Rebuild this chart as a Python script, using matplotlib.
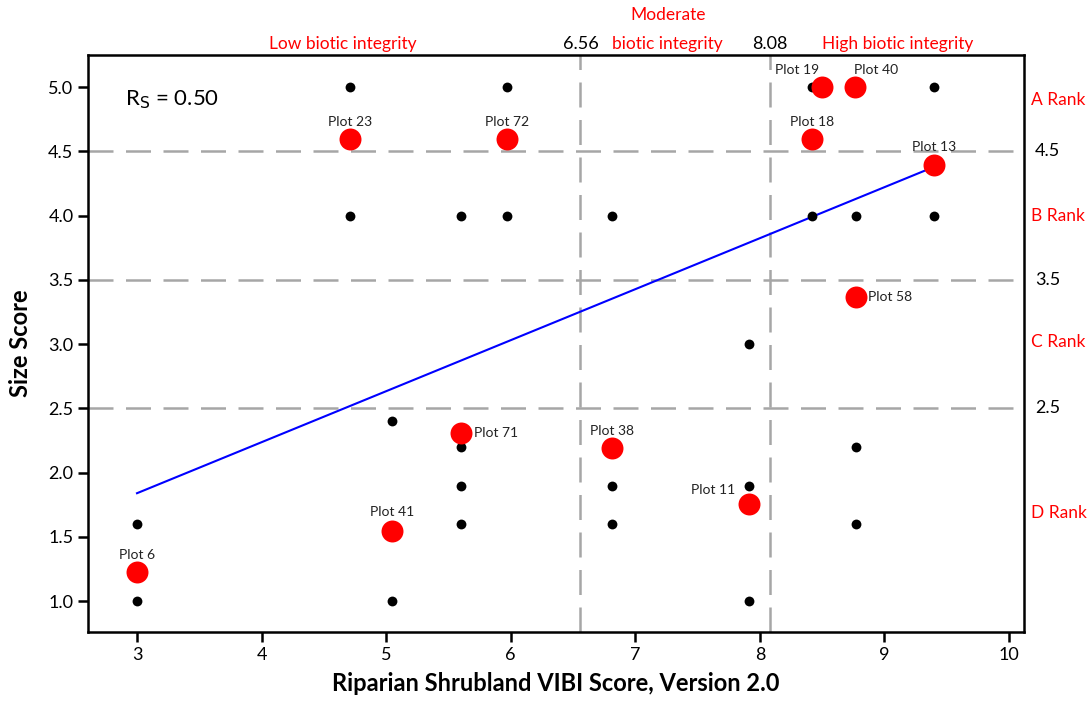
import matplotlib.pyplot as plt

plt.rcParams['font.family'] = ['Lato', 'DejaVu Sans']

# all plots (black dots)
all_x = [3.0, 3.0, 4.71, 4.71, 5.05, 5.05, 5.60, 5.60, 5.60, 5.60, 5.97, 5.97,
         6.81, 6.81, 6.81, 7.91, 7.91, 7.91, 8.42, 8.42, 8.77, 8.77, 8.77, 9.40, 9.40]
all_y = [1.6, 1.0, 5.0, 4.0, 2.4, 1.0, 4.0, 2.2, 1.9, 1.6, 5.0, 4.0,
         4.0, 1.9, 1.6, 3.0, 1.9, 1.0, 5.0, 4.0, 4.0, 2.2, 1.6, 5.0, 4.0]

# highlighted plots (red dots)
plot_names = ["Plot 6", "Plot 41", "Plot 71", "Plot 38", "Plot 11", "Plot 23",
              "Plot 72", "Plot 19", "Plot 40", "Plot 18", "Plot 13", "Plot 58"]
plot_x = [3.0, 5.05, 5.60, 6.81, 7.91, 4.71, 5.97, 8.50, 8.76, 8.42, 9.40, 8.77]
plot_y = [1.23, 1.545, 2.31, 2.19, 1.755, 4.595, 4.595, 5.0, 5.0, 4.595, 4.39, 3.365]

# label offsets (pixels) and alignment for each red plot
label_pos = [((0, 17), 'center'), ((0, 19), 'center'), ((13, 0), 'left'),
             ((0, 17), 'center'), ((-13, 14), 'right'), ((0, 17), 'center'),
             ((0, 17), 'center'), ((-25, 17), 'center'), ((22, 17), 'center'),
             ((0, 17), 'center'), ((0, 18), 'center'), ((12, 0), 'left')]

fit_x = [3.0, 9.40]
fit_y = [1.84, 4.38]

thresholds_x = [6.56, 8.08]
thresholds_y = [4.5, 3.5, 2.5]
ranks = ["A Rank", "B Rank", "C Rank", "D Rank"]
rank_y = [4.9, 4.0, 3.02, 1.685]

fig = plt.figure(figsize=(10.87, 7.02), dpi=100)
ax = fig.add_axes([0.081, 0.0997, 0.861, 0.822])

dash_style = dict(color='#a6a6a6', linewidth=1.8, dashes=(10, 5), zorder=1)
for xv in thresholds_x:
    ax.axvline(xv, **dash_style)
for yv in thresholds_y:
    ax.axhline(yv, **dash_style)

ax.plot(fit_x, fit_y, color='#0000ff', linewidth=1.5, zorder=2)
ax.scatter(all_x, all_y, s=50, color='black', zorder=3, linewidths=0)
ax.scatter(plot_x, plot_y, s=250, color='#ff0000', zorder=4, linewidths=0)

for name, x, y, (off, ha) in zip(plot_names, plot_x, plot_y, label_pos):
    ax.annotate(name, (x, y), xytext=off, textcoords='offset pixels',
                ha=ha, va='center', fontsize=10, color='#222222', zorder=5)

ax.text(0.04, 0.922, r'R$_\mathrm{S}$ = 0.50', transform=ax.transAxes,
        fontsize=16, ha='left', va='center')

ax.set_xlim(2.607, 10.12)
ax.set_ylim(0.76, 5.25)
ax.set_xticks(range(3, 11))
ax.set_yticks([1.0, 1.5, 2.0, 2.5, 3.0, 3.5, 4.0, 4.5, 5.0])
ax.set_yticklabels([f"{v:.1f}" for v in ax.get_yticks()])
ax.tick_params(direction='out', length=7, width=1.8, labelsize=13)
for sp in ax.spines.values():
    sp.set_linewidth(1.8)

ax.set_xlabel('Riparian Shrubland VIBI Score, Version 2.0', fontsize=17,
              fontweight='bold', labelpad=7)
ax.set_ylabel('Size Score', fontsize=17, fontweight='bold', labelpad=12)

# threshold labels above the plot
top = ax.get_xaxis_transform()
ax.text(4.65, 1.005, 'Low biotic integrity', transform=top, color='red',
        fontsize=12.5, ha='center', va='bottom')
ax.text(7.26, 1.005, 'biotic integrity', transform=top, color='red',
        fontsize=12.5, ha='center', va='bottom')
ax.text(7.26, 1.055, 'Moderate', transform=top, color='red',
        fontsize=12.5, ha='center', va='bottom')
ax.text(9.11, 1.005, 'High biotic integrity', transform=top, color='red',
        fontsize=12.5, ha='center', va='bottom')
for xv in thresholds_x:
    ax.text(xv, 1.005, f"{xv:.2f}", transform=top, fontsize=13,
            ha='center', va='bottom')

# right-hand rank labels
right = ax.get_yaxis_transform()
for name, yv in zip(ranks, rank_y):
    ax.text(1.007, yv, name, transform=right, color='red', fontsize=12.5,
            ha='left', va='center')
for yv in thresholds_y:
    ax.text(1.012, yv, f"{yv:.1f}", transform=right, fontsize=13,
            ha='left', va='center')

fig.savefig('out.png', dpi=100)
